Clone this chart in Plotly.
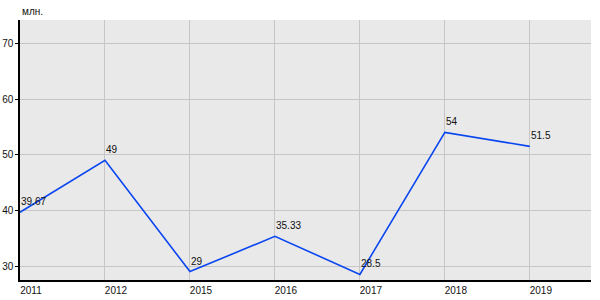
import plotly.graph_objects as go

years = ["2011", "2012", "2015", "2016", "2017", "2018", "2019"]
values = [39.67, 49, 29, 35.33, 28.5, 54, 51.5]
labels = ["39.67", "49", "29", "35.33", "28.5", "54", "51.5"]
y_ticks = [30, 40, 50, 60, 70]
unit_label = "млн."

xpos = list(range(len(years)))

fig = go.Figure()
fig.add_trace(go.Scatter(
    x=xpos, y=values, mode="lines",
    line=dict(color="#0a46f0", width=1.6),
    hoverinfo="skip", showlegend=False,
))

font = dict(family="Liberation Sans, Arial, sans-serif", size=10, color="#111")

for xi, v, t in zip(xpos, values, labels):
    fig.add_annotation(x=xi, y=v, text=t, showarrow=False,
                       xanchor="left", yanchor="bottom", yshift=3, xshift=-1,
                       font=font)

fig.add_annotation(x=0, y=1, xref="paper", yref="paper", text=unit_label,
                   showarrow=False, xanchor="left", yanchor="bottom", yshift=1,
                   font=font)

fig.update_layout(
    width=600, height=300,
    margin=dict(l=20, r=9, t=20, b=20),
    paper_bgcolor="white", plot_bgcolor="#e9e9e9",
    font=font,
)
fig.update_xaxes(
    range=[0, 6.72], tickvals=xpos, ticktext=years,
    showgrid=True, gridcolor="#c6c6c6", gridwidth=1,
    showline=True, linecolor="black", linewidth=1.5,
    ticks="", ticklabelshift=11, ticklabelstandoff=0,
    zeroline=False, fixedrange=True, automargin=False,
)
fig.update_yaxes(
    range=[27.49, 74.2], tickvals=y_ticks,
    showgrid=True, gridcolor="#c6c6c6", gridwidth=1,
    showline=True, linecolor="black", linewidth=1.5,
    ticks="outside", ticklen=3, tickcolor="black",
    zeroline=False, fixedrange=True, automargin=False,
)

fig.write_html("out.html", config={"displayModeBar": False})
